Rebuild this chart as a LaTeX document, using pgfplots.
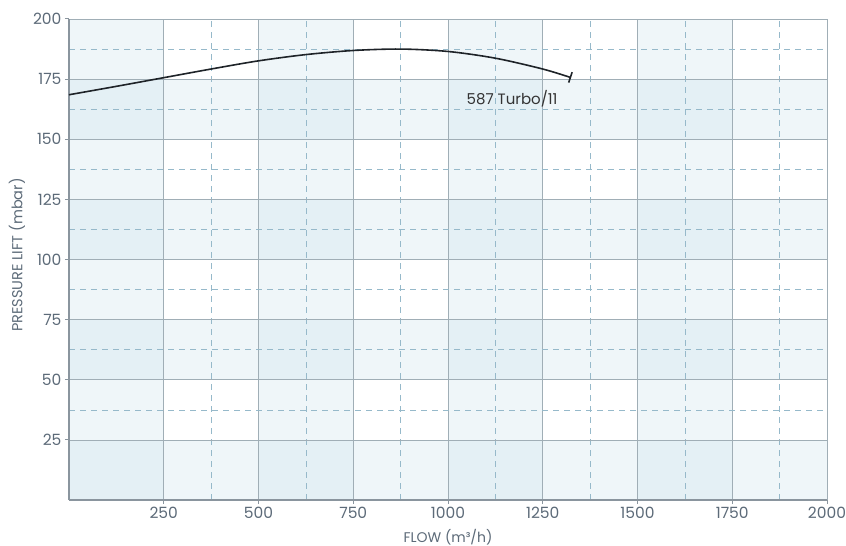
\documentclass[border=0pt]{standalone}
\usepackage{pgfplots}
\pgfplotsset{compat=1.18}
\usepackage{fontspec}
\setmainfont{Poppins}
\usetikzlibrary{arrows.meta}
\definecolor{stripe}{RGB}{204,226,236}
\definecolor{gridmaj}{RGB}{160,174,182}
\definecolor{gridmin}{RGB}{150,185,202}
\definecolor{axline}{RGB}{138,149,158}
\definecolor{lbl}{RGB}{92,106,120}
\definecolor{curve}{RGB}{30,35,40}

\pgfplotstableread{
x y
0 168.5
125 172.0
250 175.6
375 179.2
500 182.6
625 185.2
750 186.9
875 187.5
1000 186.5
1125 183.7
1250 179.2
1325 175.6
}\turbo

\begin{document}
\begin{tikzpicture}
\begin{axis}[
  set layers,
  scale only axis,
  width=758pt, height=481pt,
  xmin=0, xmax=2000, ymin=0, ymax=200,
  xtick={250,500,...,2000},
  ytick={25,50,...,200},
  minor tick num=1,
  grid=both,
  major grid style={gridmaj, line width=0.6pt},
  minor grid style={gridmin, line width=0.6pt, dash pattern=on 6pt off 5pt},
  axis line style={axline, line width=1.2pt},
  tick align=outside,
  major tick length=4pt,
  minor tick length=0pt,
  tick style={axline, line width=1pt},
  axis x line*=bottom,
  axis y line*=left,
  /pgf/number format/assume math mode=true,
  /pgf/number format/1000 sep={},
  tick label style={font=\fontsize{15.5}{17}\selectfont, text=lbl},
  xlabel={FLOW (m³/h)},
  ylabel={PRESSURE LIFT (mbar)},
  every axis x label/.style={at={(axis description cs:0.5,0)}, anchor=base, yshift=-42pt,
    font=\fontsize{14}{16}\selectfont, text=lbl},
  every axis y label/.style={at={(axis description cs:0,0.509)}, xshift=-52pt, rotate=90, anchor=center,
    font=\fontsize{14.5}{16}\selectfont, text=lbl},
]
% column stripes
\addplot[draw=none, fill=stripe, fill opacity=0.3125, on layer=axis background] coordinates {(0,0)(250,0)(250,200)(0,200)} -- cycle;
\addplot[draw=none, fill=stripe, fill opacity=0.3125, on layer=axis background] coordinates {(500,0)(750,0)(750,200)(500,200)} -- cycle;
\addplot[draw=none, fill=stripe, fill opacity=0.3125, on layer=axis background] coordinates {(1000,0)(1250,0)(1250,200)(1000,200)} -- cycle;
\addplot[draw=none, fill=stripe, fill opacity=0.3125, on layer=axis background] coordinates {(1500,0)(1750,0)(1750,200)(1500,200)} -- cycle;
% row stripes
\addplot[draw=none, fill=stripe, fill opacity=0.3125, on layer=axis background] coordinates {(0,0)(2000,0)(2000,25)(0,25)} -- cycle;
\addplot[draw=none, fill=stripe, fill opacity=0.3125, on layer=axis background] coordinates {(0,50)(2000,50)(2000,75)(0,75)} -- cycle;
\addplot[draw=none, fill=stripe, fill opacity=0.3125, on layer=axis background] coordinates {(0,100)(2000,100)(2000,125)(0,125)} -- cycle;
\addplot[draw=none, fill=stripe, fill opacity=0.3125, on layer=axis background] coordinates {(0,150)(2000,150)(2000,175)(0,175)} -- cycle;

\addplot[curve, line width=1.6pt, smooth, -{Bar[width=11pt, line width=1.6pt]}] table {\turbo};
\node[font=\fontsize{15}{17}\selectfont, text=black!80] at (axis cs:1169,167) {587 Turbo/11};
\coordinate (bl) at (rel axis cs:0,0);
\end{axis}
\pgfresetboundingbox
\path ([shift={(-69pt,-46pt)}]bl) rectangle ++(846pt,546pt);
\end{tikzpicture}
\end{document}
